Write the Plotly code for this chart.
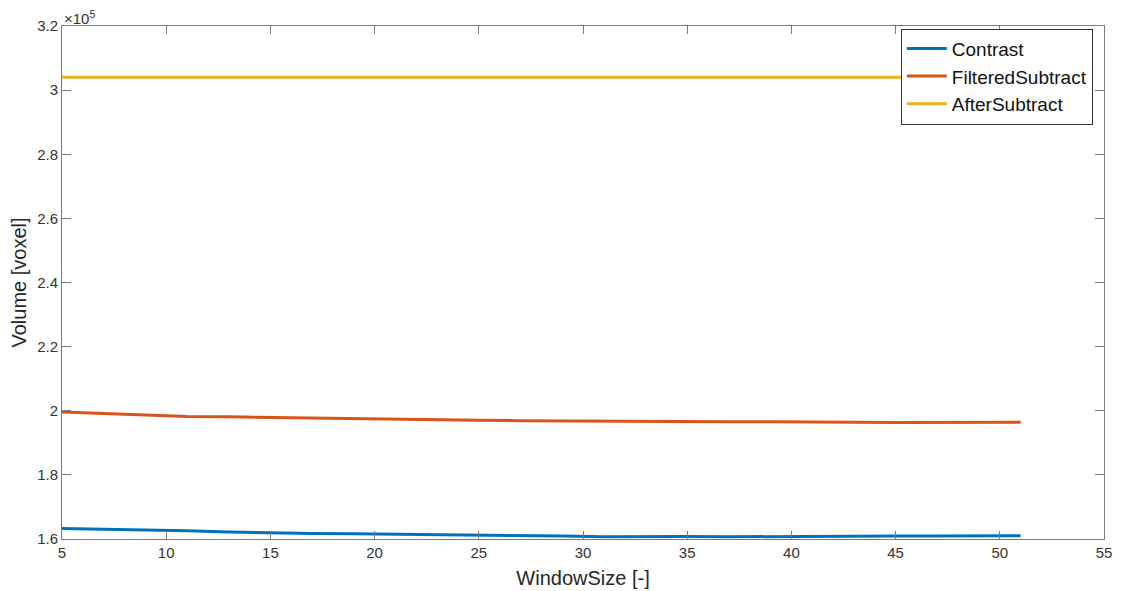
import plotly.graph_objects as go

# Window sizes tested
window_size = [5, 7, 9, 11, 13, 15, 17, 19, 21, 23, 25, 27, 29, 31, 33, 35, 37, 39, 41, 43, 45, 47, 49, 51]

# Segmented volume in units of 1e5 voxels
contrast = [1.633, 1.631, 1.629, 1.626, 1.622, 1.619, 1.617, 1.616, 1.615, 1.614, 1.612, 1.611,
            1.609, 1.607, 1.608, 1.608, 1.607, 1.608, 1.608, 1.608, 1.609, 1.609, 1.609, 1.610]
filtered_subtract = [1.996, 1.991, 1.988, 1.982, 1.981, 1.979, 1.976, 1.975, 1.974, 1.972, 1.970, 1.969,
                     1.968, 1.967, 1.967, 1.966, 1.966, 1.966, 1.964, 1.964, 1.963, 1.963, 1.963, 1.964]
after_subtract = [3.040] * len(window_size)

series = [
    ("Contrast", contrast, "#0072BD"),
    ("FilteredSubtract", filtered_subtract, "#D95319"),
    ("AfterSubtract", after_subtract, "#EDB120"),
]

y_ticks = [1.6, 1.8, 2.0, 2.2, 2.4, 2.6, 2.8, 3.0, 3.2]
y_tick_text = ["1.6", "1.8", "2", "2.2", "2.4", "2.6", "2.8", "3", "3.2"]
x_ticks = [5, 10, 15, 20, 25, 30, 35, 40, 45, 50, 55]

fig = go.Figure()
for name, vals, color in series:
    fig.add_trace(go.Scatter(
        x=window_size, y=vals, mode="lines", name=name,
        line=dict(color=color, width=3),
    ))

font_family = "Liberation Sans, Arial, sans-serif"
axis_color = "#7a7a7a"
text_color = "#333333"

fig.update_layout(
    width=1121, height=591,
    margin=dict(l=62, r=17, t=26, b=52),
    paper_bgcolor="white", plot_bgcolor="white",
    font=dict(family=font_family, size=15, color=text_color),
    showlegend=True,
    legend=dict(
        x=0.805, y=0.995, xanchor="left", yanchor="top",
        bgcolor="white", bordercolor="#333333", borderwidth=1,
        font=dict(size=19, color="#111111"),
        itemwidth=40, tracegroupgap=0,
    ),
    xaxis=dict(
        range=[5, 55], tickvals=x_ticks, ticks="inside", ticklen=8,
        tickcolor=axis_color, showline=True, linecolor=axis_color, linewidth=1,
        mirror="ticks", showgrid=False, zeroline=False, automargin=False,
        title=dict(text="WindowSize [-]", font=dict(size=20, color="#262626"), standoff=10),
        tickfont=dict(size=15, color=text_color),
    ),
    yaxis=dict(
        range=[1.6, 3.2], tickvals=y_ticks, ticktext=y_tick_text, ticks="inside", ticklen=9,
        tickcolor=axis_color, showline=True, linecolor=axis_color, linewidth=1,
        mirror="ticks", showgrid=False, zeroline=False, automargin=False,
        title=dict(text="Volume [voxel]", font=dict(size=20, color="#262626"), standoff=5),
        tickfont=dict(size=15, color=text_color),
    ),
    annotations=[dict(
        text="\u00d710<sup>5</sup>", xref="paper", yref="paper", x=0, y=1,
        xanchor="left", yanchor="bottom", showarrow=False,
        font=dict(size=15, color=text_color), yshift=-3,
    )],
)

fig.write_html("out.html")
